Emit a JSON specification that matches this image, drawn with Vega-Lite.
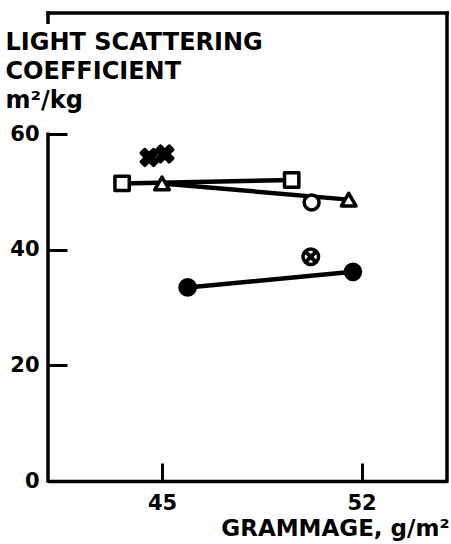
{
  "$schema": "https://vega.github.io/schema/vega-lite/v6.json",
  "width": 399,
  "height": 468,
  "autosize": {"type": "none"},
  "padding": {"left": 48, "top": 13, "right": 4, "bottom": 63},
  "background": "white",
  "config": {
    "view": {"stroke": null},
    "font": "DejaVu Sans",
    "axis": {
      "grid": false,
      "labelFont": "DejaVu Sans",
      "labelFontWeight": "bold",
      "labelFontSize": 21,
      "labelColor": "black",
      "titleFont": "DejaVu Sans",
      "titleFontWeight": "bold",
      "titleFontSize": 23,
      "titleColor": "black",
      "tickColor": "black",
      "tickWidth": 3,
      "domainColor": "black",
      "domainWidth": 3.5
    }
  },
  "datasets": {
    "measurements": [
      {"series": "square", "gram": 43.6, "lsc": 51.5},
      {"series": "square", "gram": 49.55, "lsc": 52.1},
      {"series": "triangle", "gram": 45.0, "lsc": 51.5},
      {"series": "triangle", "gram": 51.55, "lsc": 48.7},
      {"series": "circle", "gram": 50.25, "lsc": 48.2},
      {"series": "dot", "gram": 45.9, "lsc": 33.5},
      {"series": "dot", "gram": 51.7, "lsc": 36.2},
      {"series": "crossed", "gram": 50.22, "lsc": 38.8},
      {"series": "star", "gram": 44.55, "lsc": 56.0},
      {"series": "star", "gram": 45.1, "lsc": 56.6}
    ]
  },
  "layer": [
    {
      "data": {"values": [{}]},
      "mark": {"type": "rule", "color": "black", "strokeWidth": 3.5, "strokeCap": "square"},
      "encoding": {
        "x": {"datum": 41},
        "y": {"datum": 0},
        "y2": {"datum": 60}
      }
    },
    {
      "data": {"values": [{}]},
      "mark": {"type": "rule", "color": "black", "strokeWidth": 3.5, "strokeCap": "square"},
      "encoding": {
        "x": {"datum": 41},
        "x2": {"datum": 55},
        "y": {"datum": 81}
      }
    },
    {
      "data": {"values": [{}]},
      "mark": {"type": "rule", "color": "black", "strokeWidth": 3.5, "strokeCap": "square"},
      "encoding": {
        "x": {"datum": 55},
        "y": {"datum": 0},
        "y2": {"datum": 81}
      }
    },
    {
      "data": {"values": [{}]},
      "mark": {"type": "rule", "color": "black", "strokeWidth": 3.5, "strokeCap": "square"},
      "encoding": {
        "x": {"datum": 41},
        "y": {"datum": 79.4},
        "y2": {"datum": 81}
      }
    },
    {
      "data": {"name": "measurements"},
      "transform": [{"filter": {"field": "series", "oneOf": ["square", "triangle", "dot"]}}],
      "mark": {"type": "line", "color": "black", "strokeWidth": 4.5, "strokeCap": "round"},
      "encoding": {
        "x": {"field": "gram", "type": "quantitative", "title": "GRAMMAGE, g/m²"},
        "y": {"field": "lsc", "type": "quantitative", "title": ["LIGHT SCATTERING", "COEFFICIENT", "m²/kg"]},
        "detail": {"field": "series"}
      }
    },
    {
      "data": {"name": "measurements"},
      "mark": {"type": "point", "filled": true, "stroke": "black", "opacity": 1, "strokeJoin": "round"},
      "encoding": {
        "x": {
          "field": "gram",
          "type": "quantitative",
          "title": "GRAMMAGE, g/m²",
          "scale": {"domain": [41, 55], "nice": false, "zero": false},
          "axis": {
            "values": [45, 52],
            "tickSize": -18,
            "labelPadding": 29,
            "titleAnchor": "end",
            "titleAlign": "right",
            "titleBaseline": "alphabetic",
            "titleX": 401,
            "titleY": 54
          }
        },
        "y": {
          "field": "lsc",
          "type": "quantitative",
          "title": ["LIGHT SCATTERING", "COEFFICIENT", "m²/kg"],
          "scale": {"domain": [0, 81], "nice": false},
          "axis": {
            "values": [0, 20, 40, 60],
            "domain": false,
            "tickSize": -19,
            "labelPadding": 28,
            "titleAngle": 0,
            "titleAlign": "left",
            "titleBaseline": "top",
            "titleFontSize": 24,
            "titleX": -43,
            "titleY": 17.5,
            "titleLineHeight": 29
          }
        },
        "shape": {
          "field": "series",
          "type": "nominal",
          "legend": null,
          "scale": {
            "domain": ["square", "triangle", "circle", "dot", "crossed", "star"],
            "range": [
              "square",
              "triangle-up",
              "circle",
              "circle",
              "circle",
              "M -1 -0.55 L -0.55 -1 L 0 -0.45 L 0.55 -1 L 1 -0.55 L 0.45 0 L 1 0.55 L 0.55 1 L 0 0.45 L -0.55 1 L -1 0.55 L -0.45 0 Z"
            ]
          }
        },
        "fill": {
          "field": "series",
          "type": "nominal",
          "legend": null,
          "scale": {
            "domain": ["square", "triangle", "circle", "dot", "crossed", "star"],
            "range": ["white", "white", "white", "black", "white", "black"]
          }
        },
        "size": {
          "field": "series",
          "type": "nominal",
          "legend": null,
          "scale": {
            "domain": ["square", "triangle", "circle", "dot", "crossed", "star"],
            "range": [205, 250, 165, 180, 420, 260]
          }
        },
        "strokeWidth": {
          "field": "series",
          "type": "nominal",
          "legend": null,
          "scale": {
            "domain": ["square", "triangle", "circle", "dot", "crossed", "star"],
            "range": [3.5, 3.5, 3.5, 3.5, 5, 3]
          }
        }
      }
    },
    {
      "data": {"name": "measurements"},
      "transform": [{"filter": {"field": "series", "equal": "crossed"}}],
      "mark": {
        "type": "point",
        "shape": "M -1 -1 L 1 1 M -1 1 L 1 -1",
        "size": 120,
        "stroke": "black",
        "strokeWidth": 4,
        "opacity": 1
      },
      "encoding": {
        "x": {"field": "gram", "type": "quantitative"},
        "y": {"field": "lsc", "type": "quantitative"}
      }
    }
  ]
}
